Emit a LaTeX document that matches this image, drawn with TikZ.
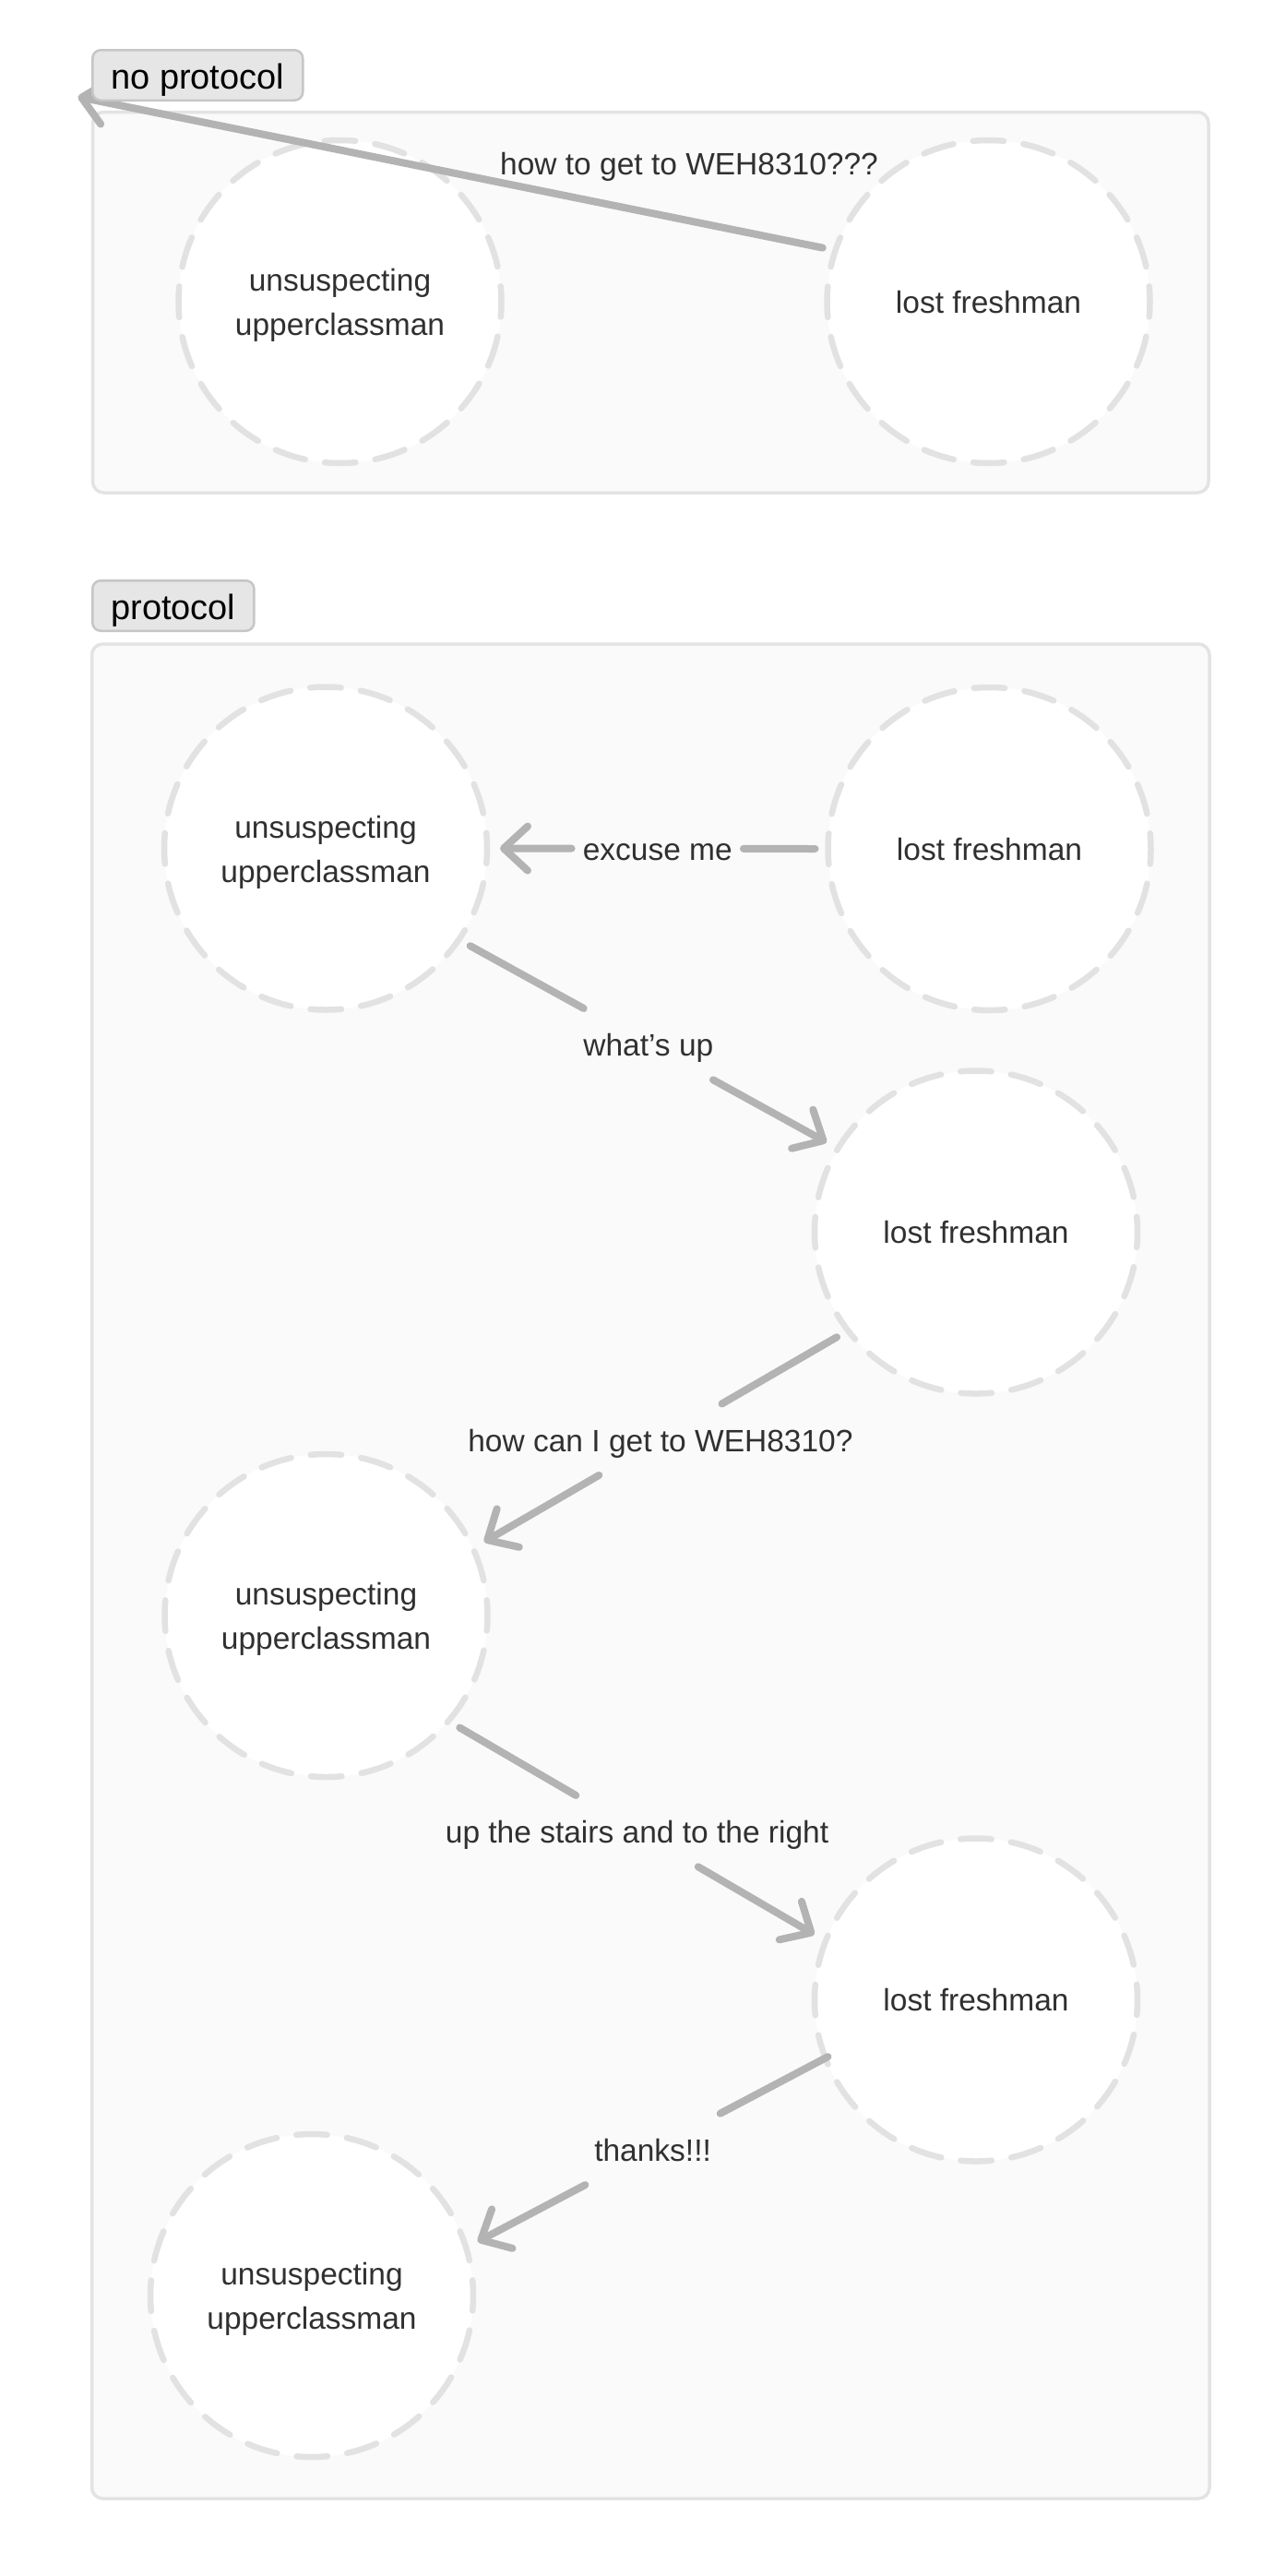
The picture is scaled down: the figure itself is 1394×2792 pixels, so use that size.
\documentclass[tikz,border=0pt]{standalone}
\usepackage{fontspec}
\setmainfont{Liberation Sans}
\usetikzlibrary{arrows.meta,calc}
\definecolor{panelfill}{HTML}{FAFAFA}
\definecolor{panelline}{HTML}{E3E3E3}
\definecolor{circline}{HTML}{E2E2E2}
\definecolor{edgecol}{HTML}{B3B3B3}
\definecolor{txt}{HTML}{303030}
\definecolor{tagfill}{HTML}{E6E6E6}
\definecolor{tagline}{HTML}{C6C6C6}
\begin{document}
\begin{tikzpicture}[x=1pt,y=-1pt,
  panel/.style={draw=panelline, line width=3.5pt, fill=panelfill, rounded corners=12pt},
  tag/.style={draw=tagline, line width=2.5pt, fill=tagfill, rounded corners=9pt, anchor=north west,
    minimum height=54.5pt, inner xsep=20pt, inner ysep=0pt, text height=29pt, text depth=0pt,
    font=\fontsize{38}{44}\selectfont, text=black},
  actor/.style={circle, draw=circline, fill=white, line width=6.5pt,
    dash pattern=on 33.5pt off 21.5pt, dash phase=16.75pt, line cap=round,
    minimum size=350pt, inner sep=0pt, outer sep=14pt,
    font=\fontsize{33.5}{48}\selectfont, text=txt, align=center},
  single/.style={text height=24.5pt, text depth=0pt},
  double/.style={text height=73pt, text depth=0pt},
  elabel/.style={font=\fontsize{33.5}{48}\selectfont, text=txt, inner xsep=12pt, inner ysep=25.5pt,
    text height=26pt, text depth=0pt},
  edge/.style={draw=edgecol, line width=8pt, line cap=round},
  tip/.style={edge, -{Straight Barb[length=26pt,width=48pt,round]}}
]
\fill[white] (0,0) rectangle (1394,2792);
\useasboundingbox (0,0) rectangle (1394,2792);

% panels
\draw[panel] (100.5,121.5) rectangle (1310,534);
\draw[panel] (99.5,698) rectangle (1311,2708);

% top panel
\node[actor,double] (ta) at (368.5,327) {unsuspecting\\upperclassman};
\node[actor,single] (tb) at (1071.5,327) {lost freshman};
\node[elabel] (lbl0) at (747,176) {how to get to WEH8310???};
\coordinate (lost) at (84.5,105);
\draw[tip] (tb.162.2) -- (lost);
\node[tag] (tag1) at (99,53) {no protocol};

% bottom panel
\node[tag] (tag2) at (99,628) {protocol};
\node[actor,double] (a1) at (353,919.5) {unsuspecting\\upperclassman};
\node[actor,single] (b1) at (1072.5,920) {lost freshman};
\node[actor,single] (b2) at (1058,1335.5) {lost freshman};
\node[actor,double] (a2) at (353.5,1751) {unsuspecting\\upperclassman};
\node[actor,single] (b3) at (1058,2167.5) {lost freshman};
\node[actor,double] (a3) at (338,2488) {unsuspecting\\upperclassman};

% excuse me
\path (b1.180) -- node[elabel] (e1) {excuse me} (a1.0);
\draw[edge] (b1.180) -- (e1);
\draw[tip] (e1) -- (a1.0);

% what's up
\path (a1.-34) -- node[elabel] (e2) {what’s up} (b2.149.5);
\draw[edge] (a1.-34) -- (e2);
\draw[tip] (e2) -- (b2.149.5);

% how can I get to WEH8310?
\path (b2.217.9) -- node[elabel] (e3) {how can I get to WEH8310?} (a2.25.1);
\draw[edge] (b2.217.9) -- (e3);
\draw[tip] (e3) -- (a2.25.1);

% up the stairs
\path (a2.-40) -- node[elabel] (e4) {up the stairs and to the right} (b3.158.7);
\draw[edge] (a2.-40) -- (e4);
\draw[tip] (e4) -- (b3.158.7);

% thanks
\coordinate (s5) at ($(b3.center)!0.91!(b3.201.8)$);
\path (s5) -- node[elabel] (e5) {thanks!!!} (a3.18);
\draw[edge] (s5) -- (e5);
\draw[tip] (e5) -- (a3.18);
\end{tikzpicture}
\end{document}
